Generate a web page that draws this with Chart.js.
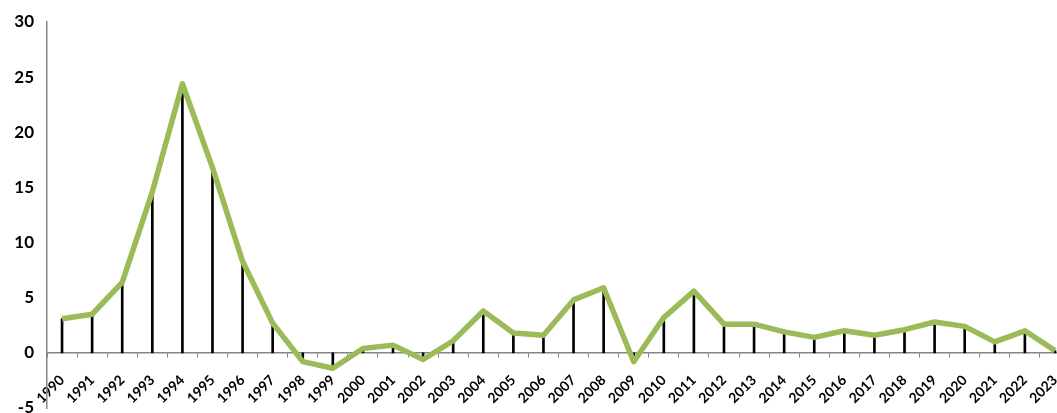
<!DOCTYPE html>
<html>
<head>
<meta charset="utf-8">
<script src="https://cdn.jsdelivr.net/npm/chart.js@4/dist/chart.umd.min.js"></script>
<style>
html, body { margin: 0; padding: 0; overflow: hidden; background: #fff; }
#wrap { width: 1075px; height: 440px; }
</style>
</head>
<body>
<div id="wrap"><canvas id="c" width="1075" height="440"></canvas></div>
<script>
const years = ['1990','1991','1992','1993','1994','1995','1996','1997','1998','1999','2000','2001','2002','2003','2004','2005','2006','2007','2008','2009','2010','2011','2012','2013','2014','2015','2016','2017','2018','2019','2020','2021','2022','2023'];
const values = [3.1, 3.5, 6.4, 14.6, 24.4, 16.8, 8.3, 2.7, -0.8, -1.4, 0.4, 0.7, -0.6, 1.1, 3.8, 1.8, 1.6, 4.8, 5.9, -0.8, 3.2, 5.6, 2.6, 2.6, 1.9, 1.4, 2.0, 1.6, 2.1, 2.8, 2.4, 1.0, 2.0, 0.2];
const yTicks = [-5, 0, 5, 10, 15, 20, 25, 30];

const axisGrey = '#868686';
const fontFam = 'Lato, "Liberation Sans", sans-serif';

new Chart(document.getElementById('c'), {
  type: 'bar',
  data: {
    labels: years,
    datasets: [
      {
        type: 'line',
        data: values,
        borderColor: '#9BBB59',
        borderWidth: 5.5,
        pointRadius: 0,
        tension: 0,
        fill: false,
        order: 0,
        borderJoinStyle: 'round'
      },
      {
        type: 'bar',
        data: values,
        backgroundColor: '#000',
        barThickness: 2,
        order: 1
      }
    ]
  },
  options: {
    responsive: false,
    animation: false,
    layout: { padding: { left: 0, top: 22, right: 5, bottom: 32 } },
    plugins: { legend: { display: false }, tooltip: { enabled: false } },
    scales: {
      x: {
        type: 'category',
        position: { y: 0 },
        offset: true,
        grid: { display: true, drawOnChartArea: false, drawTicks: true, tickLength: 4, color: axisGrey, offset: true },
        border: { display: true, color: axisGrey, width: 1.5 },
        ticks: { autoSkip: false, minRotation: 45, maxRotation: 45, padding: 15, color: '#000', font: { family: fontFam, size: 14, weight: 'bold' } },
        afterFit: (s) => { s.height = 0; s.paddingLeft = 0; s.paddingRight = 0; s.paddingTop = 0; s.paddingBottom = 0; }
      },
      y: {
        min: -5,
        max: 30,
        afterBuildTicks: (s) => { s.ticks = yTicks.map(v => ({ value: v })); },
        grid: { display: false, drawTicks: false },
        border: { display: true, color: axisGrey, width: 1.5 },
        ticks: { padding: 13, color: '#000', font: { family: fontFam, size: 17, weight: 'bold' } },
        afterFit: (s) => { s.width = 47; s.paddingTop = 0; s.paddingBottom = 0; }
      }
    }
  }
});
</script>
</body>
</html>
